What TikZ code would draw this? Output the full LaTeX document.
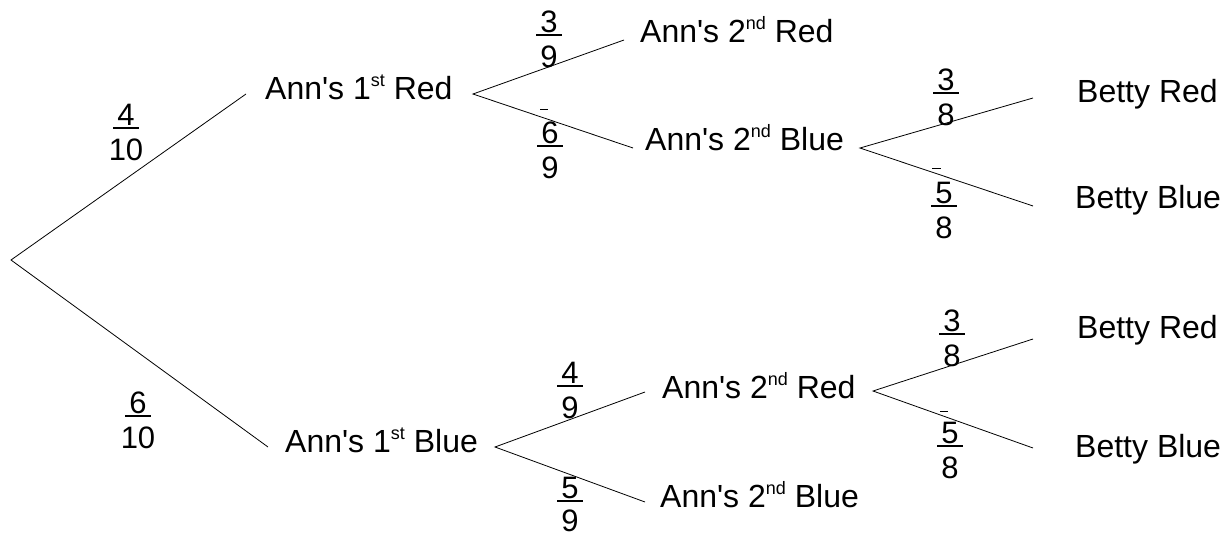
\documentclass[tikz,border=0pt]{standalone}
\usepackage{fontspec}
\setmainfont{Liberation Sans}[Ligatures=TeXOff]
\newcommand\ordsup[1]{\raisebox{13pt}{\fontsize{18}{18}\selectfont #1}}
\newsavebox\numbox
\newcommand\ulnum[1]{\sbox\numbox{\hspace{4pt}#1\hspace{4pt}}\rlap{\raisebox{-3.5pt}{\rule{\wd\numbox}{1.6pt}}}\usebox\numbox}
\newcommand\fr[2]{\begin{tabular}[t]{@{}c@{}}\ulnum{#1}\\#2\end{tabular}}
\newcommand\frtight[2]{\raisebox{0pt}[\height][0pt]{\begin{tabular}[t]{@{}c@{}}\ulnum{#1}\\[-2pt]#2\end{tabular}}}
\tikzset{
  lbl/.style={anchor=base west, inner sep=0pt, font=\fontsize{32}{38}\selectfont},
  frac/.style={anchor=base, inner sep=0pt, font=\fontsize{31}{35}\selectfont},
  branch/.style={draw=black, line width=0.8pt},
  tick/.style={draw=black, line width=1pt}
}
\begin{document}
\begin{tikzpicture}[x=1pt, y=-1pt]
\useasboundingbox (0,0) rectangle (1229,533);
% points of the tree
\coordinate (root) at (11,260);
\coordinate (a1r-in) at (246,94);   \coordinate (a1r-out) at (473,94);
\coordinate (a1b-in) at (268,447);  \coordinate (a1b-out) at (495,447);
\coordinate (a2rt-in) at (624,40);
\coordinate (a2bt-in) at (633,148); \coordinate (a2bt-out) at (860,148);
\coordinate (a2rl-in) at (645,392); \coordinate (a2rl-out) at (873,391);
\coordinate (a2bl-in) at (645,502);
\coordinate (brt-in) at (1033,98);
\coordinate (bbt-in) at (1033,206);
\coordinate (brl-in) at (1033,339);
\coordinate (bbl-in) at (1033,448);
% labels
\node[lbl] (a1r)  at (265,99)  {Ann's 1\ordsup{st} Red};
\node[lbl] (a1b)  at (285,452) {Ann's 1\ordsup{st} Blue};
\node[lbl] (a2rt) at (640,42)  {Ann's 2\ordsup{nd} Red};
\node[lbl] (a2bt) at (645,150) {Ann's 2\ordsup{nd} Blue};
\node[lbl] (a2rl) at (662,398) {Ann's 2\ordsup{nd} Red};
\node[lbl] (a2bl) at (660,507) {Ann's 2\ordsup{nd} Blue};
\node[lbl] (brt)  at (1077,102) {Betty Red};
\node[lbl] (bbt)  at (1075,208) {Betty Blue};
\node[lbl] (brl)  at (1077,338) {Betty Red};
\node[lbl] (bbl)  at (1075,457) {Betty Blue};
% branches
\draw[branch] (a1r-in) -- (root) -- (a1b-in);
\draw[branch] (a2rt-in) -- (a1r-out) -- (a2bt-in);
\draw[branch] (brt-in) -- (a2bt-out) -- (bbt-in);
\draw[branch] (a2rl-in) -- (a1b-out) -- (a2bl-in);
\draw[branch] (brl-in) -- (a2rl-out) -- (bbl-in);
% probabilities
\node[frac] (p1) at (126,125) {\fr{4}{10}};
\node[frac] (p2) at (138,413) {\fr{6}{10}};
\node[frac] (p3) at (549,32)  {\fr{3}{9}};
\node[frac] (p4) at (550,143) {\fr{6}{9}};
\node[frac] (p5) at (946,90)  {\fr{3}{8}};
\node[frac] (p6) at (944,203) {\fr{5}{8}};
\node[frac] (p7) at (570,383) {\fr{4}{9}};
\node[frac] (p8) at (570,498) {\frtight{5}{9}};
\node[frac] (p9) at (952,331) {\fr{3}{8}};
\node[frac] (p10) at (950,443) {\fr{5}{8}};
% small marks above some numerators
\draw[tick] (540,109) -- (548,109);
\draw[tick] (932,168) -- (941,168);
\draw[tick] (940,411) -- (948,411);
\end{tikzpicture}
\end{document}
